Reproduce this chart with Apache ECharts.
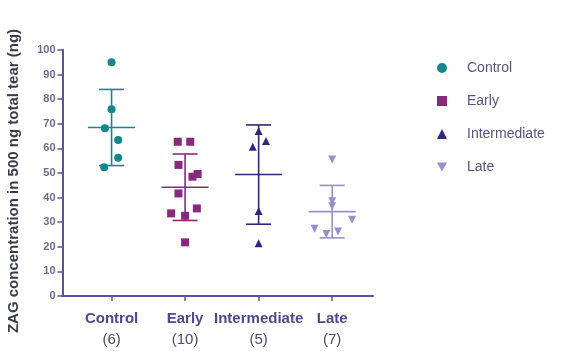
<!DOCTYPE html>
<html>
<head>
<meta charset="utf-8">
<script src="https://cdn.jsdelivr.net/npm/echarts@6/dist/echarts.min.js"></script>
<style>html,body{margin:0;padding:0;background:#fff;}#c{width:568px;height:351px;}</style>
</head>
<body>
<div id="c"></div>
<script>
var categories = ['Control', 'Early', 'Intermediate', 'Late'];
var counts = ['(6)', '(10)', '(5)', '(7)'];
var yTicks = [0, 10, 20, 30, 40, 50, 60, 70, 80, 90, 100];

var controlValues = [95.0, 75.9, 68.2, 63.4, 56.2, 52.3];
var controlJitter = [0, 0, -0.09, 0.09, 0.09, -0.1];
var earlyValues = [62.7, 62.7, 53.3, 49.6, 48.5, 41.7, 33.6, 32.6, 35.6, 21.8];
var earlyJitter = [-0.1, 0.07, -0.09, 0.17, 0.1, -0.09, -0.19, 0, 0.16, 0];
var intermediateValues = [67.1, 60.7, 63.0, 34.6, 21.4];
var intermediateJitter = [0, -0.08, 0.1, 0, 0];
var lateValues = [55.5, 38.5, 36.5, 31.0, 27.3, 25.2, 26.2];
var lateJitter = [0, 0, 0, 0.27, -0.24, -0.08, 0.08];

var colors = ['#14878d', '#872a7e', '#2b2a78', '#9392cc'];
var invTri = 'path://M0,0 L10,0 L5,9 Z';
var symbols = ['circle', 'rect', 'triangle', invTri];
var sizes = [8, 8, 8, 8];

var groups = [
  [controlValues, controlJitter],
  [earlyValues, earlyJitter],
  [intermediateValues, intermediateJitter],
  [lateValues, lateJitter]
];

function mean(a) { return a.reduce(function (s, v) { return s + v; }, 0) / a.length; }
function sd(a) {
  var m = mean(a);
  return Math.sqrt(a.reduce(function (s, v) { return s + (v - m) * (v - m); }, 0) / (a.length - 1));
}

var series = [];
groups.forEach(function (g, i) {
  series.push({
    name: categories[i],
    type: 'scatter',
    symbol: symbols[i],
    symbolSize: sizes[i],
    itemStyle: { color: colors[i], opacity: 1 },
    data: g[0].map(function (v, k) { return [i + g[1][k], v]; }),
    z: 3
  });
});

var statsData = groups.map(function (g, i) {
  var m = mean(g[0]), s = sd(g[0]);
  return [i, m, m - s, m + s];
});

series.push({
  type: 'custom',
  name: 'stats',
  data: statsData,
  z: 2,
  renderItem: function (params, api) {
    var i = api.value(0);
    var c = colors[i];
    var m = api.coord([i, api.value(1)]);
    var lo = api.coord([i, api.value(2)]);
    var hi = api.coord([i, api.value(3)]);
    var unit = api.size([1, 0])[0];
    var mw = unit * 0.32, cw = unit * 0.17;
    var st = { stroke: c, lineWidth: 1.6 };
    return {
      type: 'group',
      children: [
        { type: 'line', shape: { x1: m[0] - mw, y1: m[1], x2: m[0] + mw, y2: m[1] }, style: st },
        { type: 'line', shape: { x1: hi[0], y1: hi[1], x2: lo[0], y2: lo[1] }, style: st },
        { type: 'line', shape: { x1: hi[0] - cw, y1: hi[1], x2: hi[0] + cw, y2: hi[1] }, style: st },
        { type: 'line', shape: { x1: lo[0] - cw, y1: lo[1], x2: lo[0] + cw, y2: lo[1] }, style: st }
      ]
    };
  }
});

var axisColor = '#56559a';
var chart = echarts.init(document.getElementById('c'), null, { renderer: 'canvas' });
chart.setOption({
  backgroundColor: '#ffffff',
  animation: false,
  grid: { left: 62.5, right: 195, top: 50, bottom: 55, containLabel: false, outerBoundsMode: 'none' },
  legend: {
    orient: 'vertical',
    left: 432,
    top: 56,
    itemGap: 19,
    itemWidth: 10,
    itemHeight: 10,
    textStyle: { fontFamily: 'Liberation Sans, Arial, sans-serif', fontSize: 14, color: '#55557f', padding: [0, 0, 0, 15] },
    data: categories.map(function (c, i) {
      return { name: c, icon: symbols[i] };
    })
  },
  xAxis: {
    type: 'value',
    min: -0.667,
    max: 3.555,
    splitLine: { show: false },
    axisLine: { show: true, onZero: false, lineStyle: { color: axisColor, width: 2 } },
    axisTick: { show: true, customValues: [0, 1, 2, 3], length: 5, lineStyle: { color: axisColor, width: 1.5 } },
    axisLabel: {
      customValues: [0, 1, 2, 3],
      margin: 12,
      formatter: function (v) {
        var i = Math.round(v);
        return '{a|' + categories[i] + '}\n{b|' + counts[i] + '}';
      },
      rich: {
        a: { fontFamily: 'Liberation Sans, Arial, sans-serif', fontSize: 15, fontWeight: 'bold', color: '#4b4b8c', lineHeight: 21 },
        b: { fontFamily: 'Liberation Sans, Arial, sans-serif', fontSize: 15, color: '#4b4b6c', lineHeight: 21 }
      }
    }
  },
  yAxis: {
    type: 'value',
    min: yTicks[0],
    max: yTicks[yTicks.length - 1],
    interval: 10,
    name: 'ZAG concentration in 500 ng total tear (ng)',
    nameLocation: 'middle',
    nameGap: 41,
    nameTextStyle: { fontFamily: 'Liberation Sans, Arial, sans-serif', fontSize: 15, fontWeight: 'bold', color: '#3a3a4a', padding: [0, 16, 0, 0] },
    splitLine: { show: false },
    axisLine: { show: true, onZero: false, lineStyle: { color: axisColor, width: 2 } },
    axisTick: { show: true, length: 5, lineStyle: { color: axisColor, width: 1.5 } },
    axisLabel: { fontFamily: 'Liberation Sans, Arial, sans-serif', fontSize: 11, fontWeight: 'bold', color: '#6b6b96', margin: 7 }
  },
  series: series
});
</script>
</body>
</html>
